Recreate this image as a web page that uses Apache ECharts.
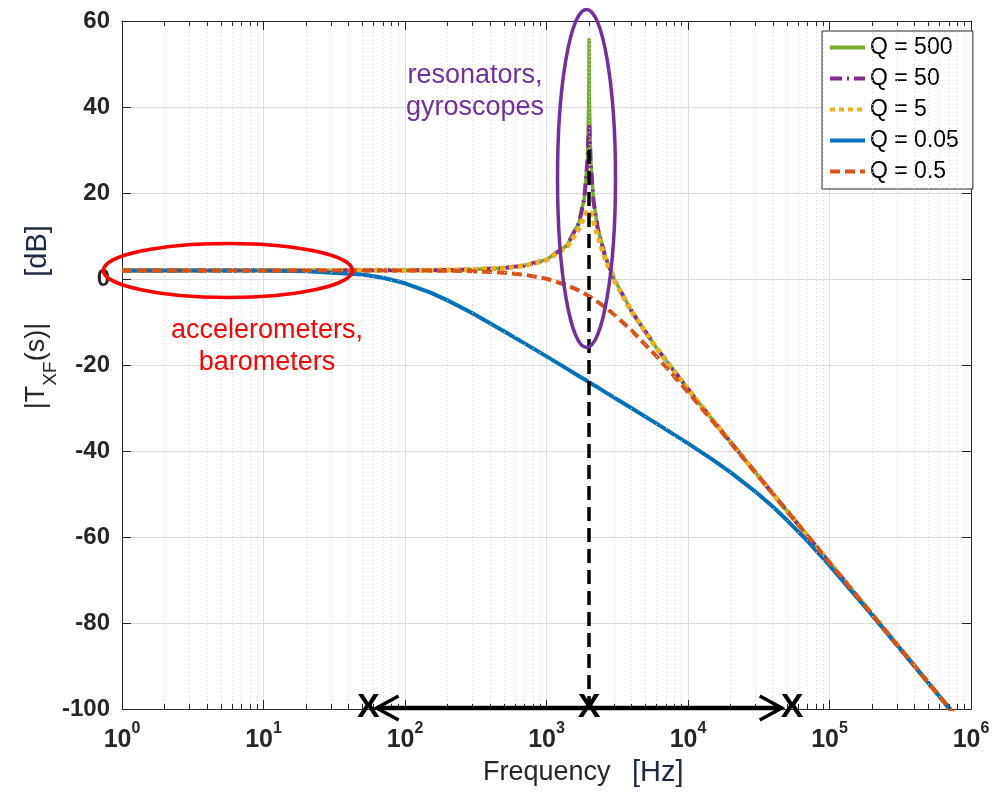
<!DOCTYPE html>
<html>
<head>
<meta charset="utf-8">
<script src="https://cdn.jsdelivr.net/npm/echarts@6/dist/echarts.min.js"></script>
<style>
html, body { margin: 0; padding: 0; background: #fff; }
#chart { width: 1004px; height: 795px; }
</style>
</head>
<body>
<div id="chart"></div>
<script>
// frequency samples [Hz] and magnitude [dB]
var freq = [1, 10, 20, 50, 70, 100, 150, 200, 300, 500, 700, 1000, 1400, 1700, 1850, 1950, 1990, 2000, 2010, 2050,
    2150, 2300, 2600, 3000, 4000, 6000, 10000, 15000, 20000, 30000, 40000, 50000, 70000, 100000, 200000, 500000, 1000000];
var q500 = [2.0, 2.0, 2.0, 2.01, 2.01, 2.02, 2.05, 2.09, 2.2, 2.56, 3.14, 4.5, 7.85, 13.13, 18.81, 28.12, 41.85, 56.0, 41.81, 27.91,
    18.16, 11.83, 5.22, 0.06, -7.54, -16.06, -25.6, -32.85, -37.91, -45.0, -50.02, -53.9, -59.76, -65.96, -78.0, -93.92, -105.96];
var q50 = [2.0, 2.0, 2.0, 2.01, 2.01, 2.02, 2.05, 2.09, 2.2, 2.56, 3.14, 4.5, 7.85, 13.12, 18.74, 27.5, 35.05, 36.0, 34.98, 27.25,
    18.08, 11.81, 5.22, 0.06, -7.54, -16.06, -25.6, -32.85, -37.91, -45.0, -50.02, -53.9, -59.76, -65.96, -78.0, -93.92, -105.96];
var q5 = [2.0, 2.0, 2.0, 2.01, 2.01, 2.02, 2.05, 2.09, 2.19, 2.55, 3.11, 4.42, 7.53, 11.75, 14.59, 15.93, 16.01, 16.0, 15.94, 15.51,
    13.52, 10.04, 4.65, -0.18, -7.62, -16.09, -25.61, -32.85, -37.91, -45.0, -50.02, -53.9, -59.76, -65.96, -78.0, -93.92, -105.96];
var q005 = [2.0, 1.96, 1.83, 1.03, 0.28, -1.0, -3.1, -4.97, -7.98, -12.13, -14.97, -18.0, -20.9, -22.6, -23.3, -23.8, -23.98, -24.0, -24.04, -24.2,
    -24.65, -25.2, -26.3, -27.55, -30.07, -33.64, -38.24, -42.07, -44.97, -49.47, -53.04, -56.06, -60.98, -66.6, -78.17, -93.95, -105.97];
var q05 = [2.0, 2.0, 2.0, 1.99, 1.99, 1.98, 1.95, 1.91, 1.81, 1.47, 1.0, 0.06, -1.46, -2.72, -3.37, -3.8, -3.98, -4.02, -4.06, -4.24,
    -4.67, -5.32, -6.6, -8.24, -11.98, -18.0, -26.3, -33.16, -38.09, -45.08, -50.06, -53.93, -59.77, -65.96, -78.0, -93.92, -105.96];

var seriesNames = ['Q = 500', 'Q = 50', 'Q = 5', 'Q = 0.05', 'Q = 0.5'];

// annotation anchors (Hz, dB)
var markFreqs = [55, 2000, 54500];
var arrowFreqs = [63, 46000];
var resonanceLine = [2000, 30];

var FONT = 'Arial, "Liberation Sans", Helvetica, sans-serif';
var TXT = '#262626';
var NAVY = '#1c2a44';

// minor decade ticks 2..9 x 10^n
var minorTicks = [];
for (var d = 0; d < 6; d++) {
    for (var m = 2; m <= 9; m++) minorTicks.push(m * Math.pow(10, d));
}

function pairs(ys) {
    return freq.map(function (f, i) { return [f, ys[i]]; });
}

function lineSeries(name, ys, color, width, type) {
    return {
        name: name,
        type: 'line',
        data: pairs(ys),
        showSymbol: false,
        symbol: 'none',
        smooth: false,
        z: 3,
        lineStyle: {color: color, width: width, type: type, cap: 'butt'},
        itemStyle: {color: color}
    };
}

var chart = echarts.init(document.getElementById('chart'));

var xAxisBase = {
    type: 'log',
    logBase: 10,
    min: 1,
    max: 1000000,
    splitNumber: 6,
    axisLine: {show: true, onZero: false, lineStyle: {color: TXT, width: 1}},
    axisTick: {show: true, inside: true, length: 9, lineStyle: {color: TXT}}
};

var option = {
    animation: false,
    backgroundColor: '#fff',
    grid: {left: 122, right: 33, top: 21, bottom: 86, containLabel: false},
    legend: {
        data: seriesNames,
        orient: 'vertical',
        left: 822,
        top: 31,
        itemWidth: 35,
        itemHeight: 14,
        itemGap: 8,
        padding: [5, 14, 6, 6],
        borderColor: TXT,
        borderWidth: 1,
        backgroundColor: '#fff',
        itemStyle: {opacity: 0},
        lineStyle: {width: 4},
        textStyle: {fontSize: 23, color: '#000', fontFamily: FONT}
    },
    xAxis: [
        Object.assign({}, xAxisBase, {
            position: 'bottom',
            splitLine: {show: true, lineStyle: {color: '#dcdcdc', width: 1}},
            axisLabel: {
                margin: 12,
                formatter: function (v) {
                    return '{b|10}{s|' + Math.round(Math.log10(v)) + '}';
                },
                rich: {
                    b: {fontSize: 25, fontWeight: 'bold', color: TXT, fontFamily: FONT, lineHeight: 32, verticalAlign: 'bottom'},
                    s: {fontSize: 16, fontWeight: 'bold', color: TXT, fontFamily: FONT, lineHeight: 16, verticalAlign: 'top'}
                }
            }
        }),
        Object.assign({}, xAxisBase, {
            position: 'top',
            splitLine: {show: false},
            axisLabel: {show: false}
        })
    ],
    yAxis: [
        {
            type: 'value', min: -100, max: 60, interval: 20, position: 'left',
            axisLine: {show: true, onZero: false, lineStyle: {color: TXT}},
            axisTick: {show: true, inside: true, length: 9, lineStyle: {color: TXT}},
            splitLine: {show: true, lineStyle: {color: '#dcdcdc', width: 1}},
            axisLabel: {margin: 12, fontSize: 24, fontWeight: 'bold', color: TXT, fontFamily: FONT}
        },
        {
            type: 'value', min: -100, max: 60, interval: 20, position: 'right',
            axisLine: {show: true, onZero: false, lineStyle: {color: TXT}},
            axisTick: {show: true, inside: true, length: 9, lineStyle: {color: TXT}},
            splitLine: {show: false},
            axisLabel: {show: false}
        }
    ],
    series: [
        {
            // minor grid
            name: 'grid',
            type: 'line',
            data: [],
            z: 1,
            silent: true,
            markLine: {
                silent: true,
                symbol: 'none',
                label: {show: false},
                lineStyle: {color: '#d6d6d6', width: 1, type: [1, 3]},
                data: minorTicks.map(function (v) { return {xAxis: v}; })
            }
        },
        {
            // minor ticks, bottom and top
            name: 'ticks',
            type: 'line',
            data: [],
            z: 1,
            silent: true,
            markLine: {
                silent: true,
                symbol: 'none',
                label: {show: false},
                lineStyle: {color: TXT, width: 1, type: 'solid'},
                data: minorTicks.map(function (v) {
                    return [{coord: [v, -100]}, {coord: [v, -98.8]}];
                }).concat(minorTicks.map(function (v) {
                    return [{coord: [v, 60]}, {coord: [v, 58.8]}];
                }))
            }
        },
        lineSeries('Q = 500', q500, '#77AC30', 3.5, 'solid'),
        lineSeries('Q = 50', q50, '#7E2F8E', 4, [12, 5, 2, 5]),
        lineSeries('Q = 5', q5, '#EDB120', 5, [5, 4]),
        lineSeries('Q = 0.05', q005, '#0072BD', 4, 'solid'),
        lineSeries('Q = 0.5', q05, '#D95319', 4, [10, 5]),
        {
            name: 'resonance',
            type: 'line',
            data: [],
            z: 4,
            silent: true,
            markLine: {
                silent: true,
                symbol: 'none',
                label: {show: false},
                lineStyle: {color: '#000', width: 3.5, type: [14, 7]},
                data: [[{coord: [resonanceLine[0], resonanceLine[1]]}, {coord: [resonanceLine[0], -100]}]]
            }
        }
    ]
};

chart.setOption(option);

function px(f, db) {
    return chart.convertToPixel({gridIndex: 0}, [f, db]);
}

var g = [];
// ellipses
var cRed = px(5.6, 2.0);
g.push({type: 'ellipse', z: 100, shape: {cx: cRed[0], cy: cRed[1], rx: 124.5, ry: 27},
    style: {fill: 'none', stroke: '#FF0000', lineWidth: 3.5}});
var cPur = px(1918, 23.4);
g.push({type: 'ellipse', z: 100, shape: {cx: cPur[0], cy: cPur[1], rx: 29, ry: 169},
    style: {fill: 'none', stroke: '#7030A0', lineWidth: 3.5}});

// annotation texts
var tRes = px(312, 43.5);
g.push({type: 'text', z: 100, x: tRes[0], y: tRes[1],
    style: {text: 'resonators,\ngyroscopes', fill: '#7030A0', font: '27px ' + FONT, lineHeight: 32, align: 'center', verticalAlign: 'middle'}});
var tAcc = px(10.6, -15.6);
g.push({type: 'text', z: 100, x: tAcc[0], y: tAcc[1],
    style: {text: 'accelerometers,\nbarometers', fill: '#FF0000', font: '27px ' + FONT, lineHeight: 32, align: 'center', verticalAlign: 'middle'}});

// double arrow along the bottom
var pL = px(arrowFreqs[0], -100);
var pR = px(arrowFreqs[1], -100);
var ay = pL[1] - 1;
g.push({type: 'line', z: 100, shape: {x1: pL[0] + 2, y1: ay, x2: pR[0] - 2, y2: ay}, style: {stroke: '#000', lineWidth: 4.5}});
g.push({type: 'polyline', z: 100, shape: {points: [[pL[0] + 22, ay - 12], [pL[0], ay], [pL[0] + 22, ay + 12]]},
    style: {stroke: '#000', lineWidth: 3.5, fill: 'none'}});
g.push({type: 'polyline', z: 100, shape: {points: [[pR[0] - 22, ay - 12], [pR[0], ay], [pR[0] - 22, ay + 12]]},
    style: {stroke: '#000', lineWidth: 3.5, fill: 'none'}});
markFreqs.forEach(function (f) {
    var p = px(f, -100);
    g.push({type: 'text', z: 101, x: p[0], y: ay,
        style: {text: 'X', fill: '#000', font: 'bold 34px ' + FONT, align: 'center', verticalAlign: 'middle'}});
});

// axis titles
g.push({type: 'text', z: 100, x: 483, y: 773,
    style: {text: 'Frequency', fill: TXT, font: '27px ' + FONT, align: 'left', verticalAlign: 'middle'}});
g.push({type: 'text', z: 100, x: 632, y: 773,
    style: {text: '[Hz]', fill: NAVY, font: '29px ' + FONT, align: 'left', verticalAlign: 'middle'}});
g.push({type: 'text', z: 100, x: 42, y: 366, rotation: Math.PI / 2,
    style: {
        text: '{a||T}{b|XF}{a|(s)|}', align: 'center', verticalAlign: 'middle',
        rich: {
            a: {fontSize: 27, fontFamily: FONT, fill: TXT, lineHeight: 37, verticalAlign: 'top'},
            b: {fontSize: 19, fontFamily: FONT, fill: TXT, lineHeight: 19, verticalAlign: 'bottom'}
        }
    }});
g.push({type: 'text', z: 100, x: 38, y: 251, rotation: Math.PI / 2,
    style: {text: '[dB]', fill: NAVY, font: '29px ' + FONT, align: 'center', verticalAlign: 'middle'}});

chart.setOption({graphic: g});
</script>
</body>
</html>
